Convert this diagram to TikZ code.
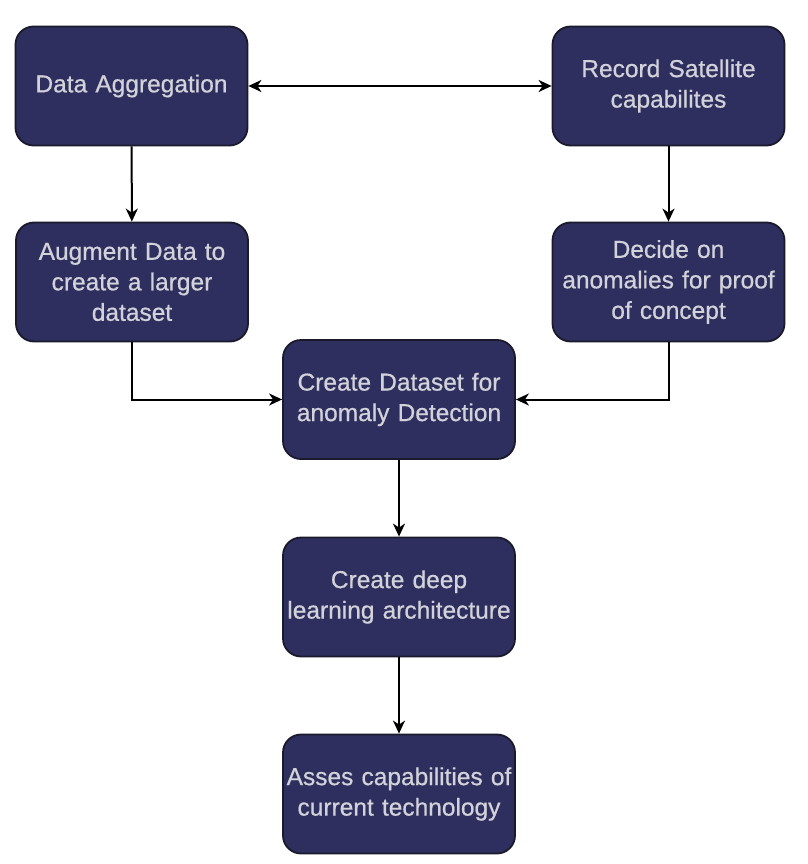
\documentclass[tikz,border=0pt]{standalone}
\usepackage{fontspec}
\setmainfont[FakeBold=0.6]{Liberation Sans}
\usetikzlibrary{arrows.meta}
\definecolor{boxfill}{HTML}{2E2F5E}
\definecolor{boxtext}{HTML}{D2D2DA}
\definecolor{boxedge}{HTML}{1A1A2C}
\tikzset{tip/.tip={Stealth[length=13pt,width=12pt,inset=4pt]}}
\begin{document}
\begin{tikzpicture}[x=1pt,y=-1pt,
  stepbox/.style={draw=boxedge, line width=1.8pt, fill=boxfill, rounded corners=18pt,
    minimum width=232pt, minimum height=119pt, text width=228pt, align=center,
    inner sep=0pt, text=boxtext, font=\fontsize{24.5}{30.5}\selectfont},
  conn/.style={draw=black, line width=2pt, -tip}
]
\useasboundingbox[fill=white] (0,0) rectangle (807,864);
\node[stepbox] (agg) at (131.5,86) {\raisebox{-2pt}{Data Aggregation}};
\node[stepbox] (rec) at (668.5,86) {\raisebox{-2pt}{Record Satellite}\\\raisebox{-2pt}{capabilites}};
\node[stepbox] (aug) at (132,282) {Augment Data to\\create a larger\\dataset};
\node[stepbox] (dec) at (668.5,282) {Decide on\\anomalies for proof\\of concept};
\node[stepbox] (cds) at (399,399.5) {Create Dataset for\\anomaly Detection};
\node[stepbox] (cdl) at (399,597) {Create deep\\learning architecture};
\node[stepbox] (ass) at (399,794) {\raisebox{-2pt}{Asses capabilities of}\\\raisebox{-2pt}{current technology}};
\draw[conn, tip-tip] (agg.east) -- (rec.west);
\draw[conn] (agg) -- (aug);
\draw[conn] (rec) -- (dec);
\draw[conn] (aug.south) |- (cds.west);
\draw[conn] (dec.south) |- (cds.east);
\draw[conn] (cds) -- (cdl);
\draw[conn] (cdl) -- (ass);
\end{tikzpicture}
\end{document}
